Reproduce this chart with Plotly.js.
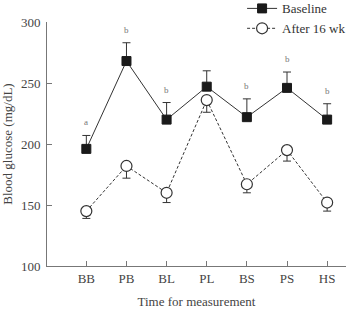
<!DOCTYPE html>
<html><head><meta charset="utf-8">
<script src="https://cdn.plot.ly/plotly-3.0.1.min.js"></script>
<style>html,body{margin:0;padding:0;background:#fff}#c{width:346px;height:311px}</style>
</head><body><div id="c"></div>
<script>
const categories = ["BB","PB","BL","PL","BS","PS","HS"];
const baseline = [196, 268, 220, 247, 222, 246, 220];
const baselineErr = [11, 15, 14, 13, 15, 13, 13];
const after16 = [145, 182, 160, 236, 167, 195, 152];
const after16Err = [6, 10, 8, 10, 7, 9, 7];
const letters = ["a","b","b","","b","b","b"];

const ink = "#333";
const font = "Liberation Serif";

const traces = [
  {
    x: categories, y: after16, name: "After 16 wk", type: "scatter", mode: "lines+markers",
    line: {color: ink, width: 1, dash: "3px,2px"},
    marker: {symbol: "circle", size: 11, color: "#fff", line: {color: ink, width: 1.2}},
    error_y: {type: "data", array: after16Err.map(()=>0), arrayminus: after16Err, symmetric: false, color: ink, thickness: 1, width: 4}
  },
  {
    x: categories, y: baseline, name: "Baseline", type: "scatter", mode: "lines+markers",
    line: {color: ink, width: 1},
    marker: {symbol: "square", size: 9, color: "#1a1a1a", line: {color: "#1a1a1a", width: 1}},
    error_y: {type: "data", array: baselineErr, arrayminus: baselineErr.map(()=>0), symmetric: false, color: ink, thickness: 1, width: 4}
  }
];

const annotations = [];
letters.forEach((t, i) => {
  if (!t) return;
  annotations.push({x: categories[i], y: baseline[i] + baselineErr[i], text: t, showarrow: false,
    yshift: 13, font: {family: font, size: 9, color: "#777"}});
});

const layout = {
  width: 346, height: 311,
  margin: {l: 47, r: 0, t: 22, b: 45, autoexpand: false},
  paper_bgcolor: "#fff", plot_bgcolor: "#fff",
  font: {family: font, color: "#444", size: 13},
  showlegend: true,
  legend: {x: 1.017, y: 1.117, xanchor: "right", yanchor: "top", traceorder: "reversed",
    font: {family: font, size: 13, color: "#333"}, bgcolor: "rgba(0,0,0,0)", tracegroupgap: 0, itemwidth: 30},
  xaxis: {
    range: [-0.98, 6.47], showline: true, linecolor: "#777", linewidth: 1,
    ticks: "inside", ticklen: 5, tickcolor: "#777", showgrid: false, zeroline: false,
    tickfont: {family: font, size: 13, color: "#444"},
    title: {text: "Time for measurement", font: {family: font, size: 13, color: "#444"}, standoff: 12}
  },
  yaxis: {
    range: [100, 300], tickvals: [100,150,200,250,300], showline: true, linecolor: "#777", linewidth: 1,
    ticks: "inside", ticklen: 5, tickcolor: "#777", showgrid: false, zeroline: false,
    ticklabelstandoff: 3,
    tickfont: {family: font, size: 13, color: "#444"},
    title: {text: "Blood glucose (mg/dL)", font: {family: font, size: 13, color: "#444"}, standoff: 6}
  },
  annotations: annotations
};
Plotly.newPlot("c", traces, layout, {displayModeBar: false, staticPlot: true});
</script></body></html>
